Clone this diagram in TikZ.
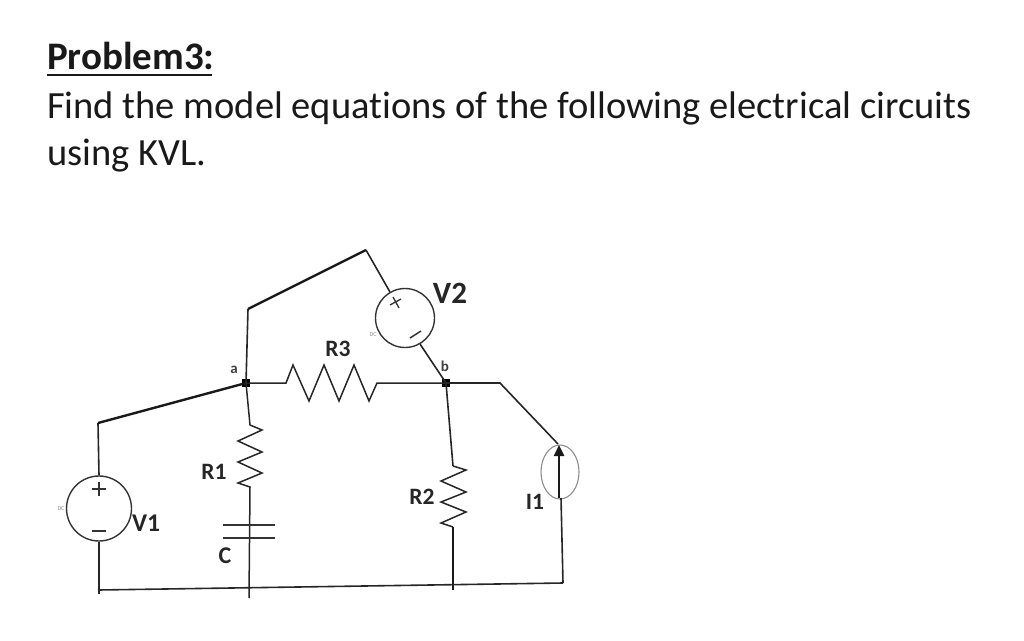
\documentclass[tikz,border=0pt]{standalone}
\usepackage{fontspec}
\setmainfont[Ligatures=NoCommon]{Carlito}
\usetikzlibrary{arrows.meta,shapes.geometric}
\tikzset{
 wire/.style={draw=black!85,line width=1.6pt},
 thick wire/.style={draw=black!90,line width=2.4pt},
 res/.style={draw=black!85,line width=1.5pt,line join=miter},
 lab/.style={inner sep=0pt,font=\bfseries\fontsize{23.5}{23.5}\selectfont,text=black!85},
 biglab/.style={inner sep=0pt,font=\bfseries\fontsize{25.5}{25.5}\selectfont,text=black!85},
 junction/.style={fill=black,inner sep=0pt,minimum size=8pt},
 tiny lab/.style={inner sep=0pt,font=\bfseries\fontsize{15}{15}\selectfont,text=black!75},
 dc/.style={inner sep=0pt,text=black!45,font=\fontsize{6}{6}\selectfont},
 txt/.style={anchor=base west,inner sep=0pt,font=\fontsize{38.5}{38.5}\selectfont,text=black!90},
}
\begin{document}
\begin{tikzpicture}[x=1pt,y=-1pt]
\useasboundingbox (0,0) rectangle (1024,640);
\node[txt,font=\bfseries\fontsize{39}{39}\selectfont] (title) at (47,69) {Problem3:};
\draw[line width=2pt,black!90] (47,75) -- (212,75);
\node[txt] (l1) at (47,118) {Find the model equations of the following electrical circuits};
\node[txt] (l2) at (47,165) {using KVL.};
% junctions
\node[junction] (a) at (246,383) {};
\node[junction] (b) at (446,383) {};
% V1
\node[draw=black!80,circle,line width=1.4pt,minimum size=65pt,inner sep=0pt] (v1) at (99,508.5) {};
\draw[line width=1.3pt,black!80] (92,489) -- (106,489) (99,482) -- (99,496);
\draw[line width=1.3pt,black!80] (92,531) -- (106,531);
\node[dc] (v1dc) at (61,509) {DC};
\node[biglab] (v1l) at (146,523) {V1};
% V2
\node[draw=black!80,circle,line width=1.4pt,minimum size=59pt,inner sep=0pt] (v2) at (405,318) {};
\draw[line width=1.3pt,black!80] (390,305) -- (401,299) (393,297) -- (399,308);
\draw[line width=1.5pt,black!80] (410,338) -- (421,331);
\node[dc] (v2dc) at (373,335) {DC};
\node[biglab,font=\bfseries\fontsize{31}{31}\selectfont] (v2l) at (450,293) {V2};
% corners
\coordinate (c1) at (98,423);
\coordinate (c2) at (248,309);
\coordinate (c3) at (366,250);
\coordinate (c4) at (98,590);
\coordinate (c5) at (563,583);
\coordinate (c6) at (500,383);
\coordinate (c7) at (558,444);
\coordinate (v1end) at (99,594);
\coordinate (cend) at (249,598);
\coordinate (r2end) at (453,590);
% top loop
\draw[wire] (v1.north) -- (c1);
\draw[thick wire] (c1) -- (a.center);
\draw[wire] (v1.south) -- (v1end);
\draw[wire] (a.center) -- (c2);
\draw[thick wire] (c2) -- (c3);
\draw[wire] (c3) -- (v2.120);
\draw[wire] (v2.-60) -- (b.center);
% R3
\draw[res] (a.center) -- (286,383) -- (293,365) -- (309,401) -- (324,365) -- (339,401) -- (354,365) -- (369,401) -- (377,383) -- (b.center);
\draw[thick wire] (b.center) -- (465,383);
\node[lab] (r3) at (338,349) {R3};
\draw[wire] (b.center) -- (c6) -- (c7);
% I1
\node[draw=black!45,ellipse,line width=1.1pt,minimum width=38pt,minimum height=54pt,inner sep=0pt] (i1) at (560,472) {};
\draw[thick wire,line width=2.4pt,-{Triangle[length=11pt,width=10pt]}] (559,498) -- (559,445);
\draw[wire] (561,498) -- (c5);
\node[lab] (i1l) at (535,502) {I1};
% R1, C
\draw[res] (a.center) -- (250,425) -- (262,430) -- (238,441) -- (262,452) -- (238,462) -- (262,473) -- (238,483) -- (250,487) -- (cend);
\draw[line width=1.3pt,black!80] (223,525) -- (275,525);
\draw[line width=1.3pt,black!80] (223,538) -- (275,538);
\node[lab] (r1) at (214,472) {R1};
\node[lab,font=\bfseries\fontsize{24}{24}\selectfont] (cl) at (225,556) {C};
\node[tiny lab] (al) at (234,370) {a};
\node[tiny lab] (bl) at (445,366) {b};
% R2
\draw[wire] (b.center) -- (453,466);
\draw[res] (453,466) -- (466,470) -- (441,481) -- (466,492) -- (441,502) -- (466,512) -- (441,523) -- (453,527);
\draw[thick wire] (453,527) -- (r2end);
\node[lab] (r2) at (422,497) {R2};
% bottom
\draw[wire] (c4) -- (c5);
\end{tikzpicture}
\end{document}
